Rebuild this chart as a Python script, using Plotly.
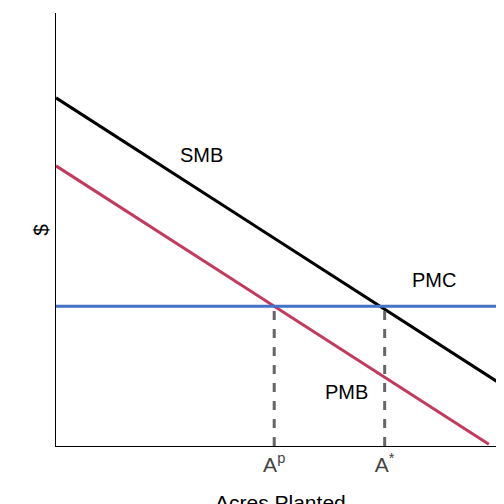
import plotly.graph_objects as go

x_range = [0, 10]
smb_x = [0, 10]
smb_y = [8.04, 1.37]
pmb_x = [0, 9.64]
pmb_y = [6.47, 0.04]
pmc_x = [0, 10]
pmc_y = [3.23, 3.23]
ap_x = 4.86
astar_x = 7.32
tick_vals = [ap_x, astar_x]
tick_text = ["A<sup>p</sup>", "A<sup>*</sup>"]

fig = go.Figure()
fig.add_trace(go.Scatter(x=smb_x, y=smb_y, mode="lines", line=dict(color="black", width=3)))
fig.add_trace(go.Scatter(x=pmb_x, y=pmb_y, mode="lines", line=dict(color="#C23B5E", width=3)))
fig.add_trace(go.Scatter(x=pmc_x, y=pmc_y, mode="lines", line=dict(color="#4472C4", width=3)))
for xv in tick_vals:
    fig.add_trace(go.Scatter(x=[xv, xv], y=[0, pmc_y[0]], mode="lines",
                             line=dict(color="#666666", width=3, dash="dash")))
for txt, xx, yy in [("SMB", 3.23, 6.72), ("PMC", 8.42, 3.83), ("PMB", 6.46, 1.25)]:
    fig.add_annotation(x=xx, y=yy, text=txt, showarrow=False, font=dict(size=20, color="black"))
fig.add_annotation(xref="paper", yref="paper", x=0.5, y=-0.1, yanchor="top", text="Acres Planted",
                   showarrow=False, font=dict(size=21, color="black"))
fig.add_annotation(xref="paper", yref="paper", x=-0.065, y=0.5, text="$", textangle=-90,
                   showarrow=False, font=dict(size=21, color="black"))

fig.update_layout(
    width=504, height=504, showlegend=False,
    plot_bgcolor="white", paper_bgcolor="white",
    margin=dict(l=48, r=7, t=5, b=66),
    font=dict(family="Liberation Sans, Arial", color="black"),
    xaxis=dict(range=x_range, showgrid=False, zeroline=False, showline=True, linecolor="black",
               linewidth=1, tickvals=tick_vals, ticktext=tick_text, ticks="", automargin=False,
               tickfont=dict(size=21, color="#444444")),
    yaxis=dict(range=[0, 10], showgrid=False, zeroline=False, showline=True, linecolor="black",
               linewidth=1, showticklabels=False, ticks="", automargin=False),
)
fig.write_html("out.html")
